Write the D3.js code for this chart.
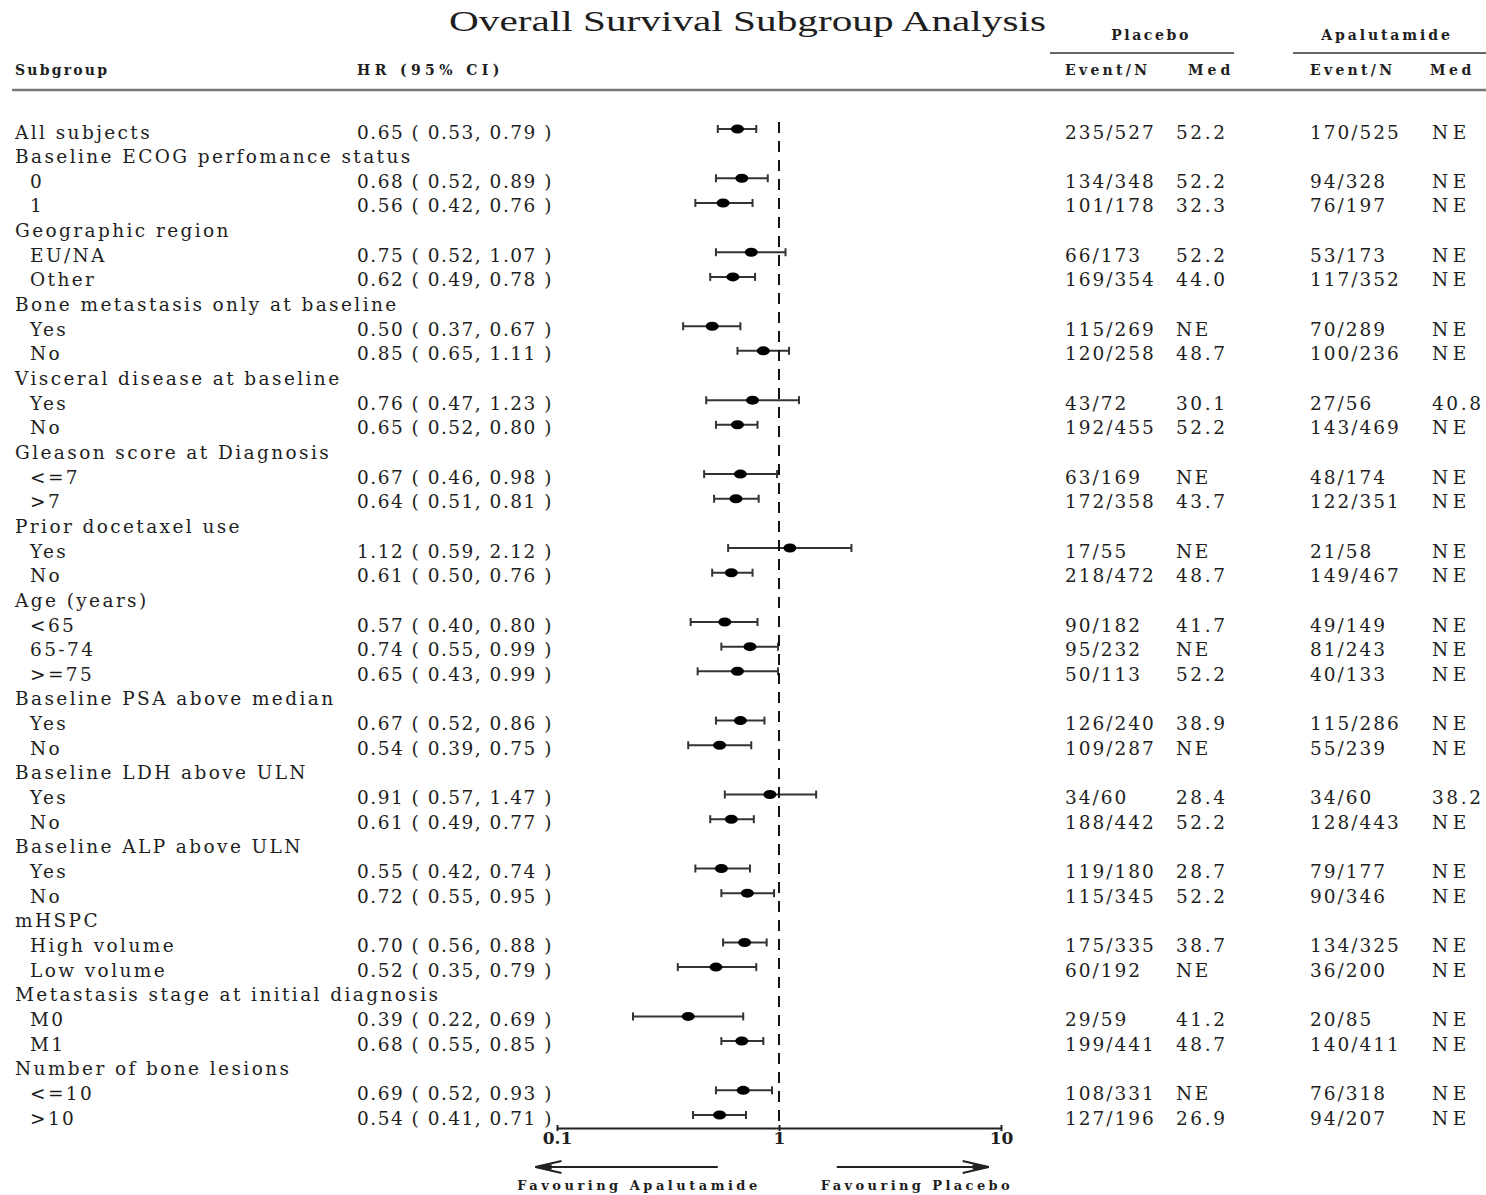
<!DOCTYPE html>
<html><head><meta charset="utf-8">
<script src="https://cdn.jsdelivr.net/npm/d3@7"></script>
<style>
html,body{margin:0;padding:0;background:#fff;}
svg{display:block;}
</style></head>
<body>
<svg id="chart" width="1486" height="1195"></svg>
<script>
const subgroups = ["All subjects","Baseline ECOG perfomance status","0","1","Geographic region","EU/NA","Other","Bone metastasis only at baseline","Yes","No","Visceral disease at baseline","Yes","No","Gleason score at Diagnosis","<=7",">7","Prior docetaxel use","Yes","No","Age (years)","<65","65-74",">=75","Baseline PSA above median","Yes","No","Baseline LDH above ULN","Yes","No","Baseline ALP above ULN","Yes","No","mHSPC","High volume","Low volume","Metastasis stage at initial diagnosis","M0","M1","Number of bone lesions","<=10",">10"];
const hr = [0.65,null,0.68,0.56,null,0.75,0.62,null,0.50,0.85,null,0.76,0.65,null,0.67,0.64,null,1.12,0.61,null,0.57,0.74,0.65,null,0.67,0.54,null,0.91,0.61,null,0.55,0.72,null,0.70,0.52,null,0.39,0.68,null,0.69,0.54];
const lower = [0.53,null,0.52,0.42,null,0.52,0.49,null,0.37,0.65,null,0.47,0.52,null,0.46,0.51,null,0.59,0.50,null,0.40,0.55,0.43,null,0.52,0.39,null,0.57,0.49,null,0.42,0.55,null,0.56,0.35,null,0.22,0.55,null,0.52,0.41];
const upper = [0.79,null,0.89,0.76,null,1.07,0.78,null,0.67,1.11,null,1.23,0.80,null,0.98,0.81,null,2.12,0.76,null,0.80,0.99,0.99,null,0.86,0.75,null,1.47,0.77,null,0.74,0.95,null,0.88,0.79,null,0.69,0.85,null,0.93,0.71];
const placeboEvents = ["235/527",null,"134/348","101/178",null,"66/173","169/354",null,"115/269","120/258",null,"43/72","192/455",null,"63/169","172/358",null,"17/55","218/472",null,"90/182","95/232","50/113",null,"126/240","109/287",null,"34/60","188/442",null,"119/180","115/345",null,"175/335","60/192",null,"29/59","199/441",null,"108/331","127/196"];
const placeboMed = ["52.2",null,"52.2","32.3",null,"52.2","44.0",null,"NE","48.7",null,"30.1","52.2",null,"NE","43.7",null,"NE","48.7",null,"41.7","NE","52.2",null,"38.9","NE",null,"28.4","52.2",null,"28.7","52.2",null,"38.7","NE",null,"41.2","48.7",null,"NE","26.9"];
const apalEvents = ["170/525",null,"94/328","76/197",null,"53/173","117/352",null,"70/289","100/236",null,"27/56","143/469",null,"48/174","122/351",null,"21/58","149/467",null,"49/149","81/243","40/133",null,"115/286","55/239",null,"34/60","128/443",null,"79/177","90/346",null,"134/325","36/200",null,"20/85","140/411",null,"76/318","94/207"];
const apalMed = ["NE",null,"NE","NE",null,"NE","NE",null,"NE","NE",null,"40.8","NE",null,"NE","NE",null,"NE","NE",null,"NE","NE","NE",null,"NE","NE",null,"38.2","NE",null,"NE","NE",null,"NE","NE",null,"NE","NE",null,"NE","NE"];
const axisTicks = [0.1, 1, 10];
const axisTickLabels = ["0.1", "1", "10"];
const title = "Overall Survival Subgroup Analysis";
const arms = ["Placebo", "Apalutamide"];
const favourLabels = ["Favouring Apalutamide", "Favouring Placebo"];
const favourArrowLeft = [0.53, 0.08];
const favourArrowRight = [1.82, 8.8];

const svg = d3.select("#chart");
const FONT = "'DejaVu Serif', serif";
const INK = "#1e1e1e";
const x = d3.scaleLog().domain([0.1, 10]).range([557, 1001]);
const y = d3.scalePoint().domain(d3.range(subgroups.length)).range([132, 1118]);
const fmt = d3.format(".2f");

// title
svg.append("text").attr("x", 449).attr("y", 31)
  .attr("font-family", "'Liberation Serif', serif").attr("font-size", 29).attr("fill", INK)
  .attr("textLength", 597).attr("lengthAdjust", "spacingAndGlyphs")
  .text(title);

// headers
const hdr = (t, xx, yy, anchor, ls) => svg.append("text").attr("x", xx).attr("y", yy)
  .attr("text-anchor", anchor || "start").attr("font-family", FONT).attr("font-weight", "bold")
  .attr("font-size", 14).attr("letter-spacing", ls).attr("fill", INK).text(t);
hdr("Subgroup", 15, 75, "start", 2.2);
hdr("HR (95% CI)", 357, 75, "start", 4.4);
hdr(arms[0], 1151, 40, "middle", 2.6);
hdr(arms[1], 1387, 40, "middle", 2.9);
hdr("Event/N", 1065, 75, "start", 3.3);
hdr("Med", 1188, 75, "start", 4);
hdr("Event/N", 1310, 75, "start", 3.3);
hdr("Med", 1430, 75, "start", 3.5);

svg.append("line").attr("x1", 1050).attr("x2", 1234).attr("y1", 53).attr("y2", 53).attr("stroke", "#666").attr("stroke-width", 2);
svg.append("line").attr("x1", 1293).attr("x2", 1486).attr("y1", 53).attr("y2", 53).attr("stroke", "#666").attr("stroke-width", 2);
svg.append("line").attr("x1", 12).attr("x2", 1486).attr("y1", 90).attr("y2", 90).attr("stroke", "#777").attr("stroke-width", 2.5);

// rows
const rows = subgroups.map((s, i) => ({ i, s, hr: hr[i], lo: lower[i], hi: upper[i], pe: placeboEvents[i], pm: placeboMed[i], ae: apalEvents[i], am: apalMed[i] }));
const txt = (sel, xx, ls, fn) => sel.append("text").attr("x", xx).attr("y", d => y(d.i) + 6.5)
  .attr("font-family", FONT).attr("font-size", 18.5).attr("letter-spacing", ls).attr("fill", INK).text(fn);

const g = svg.append("g");
const rg = g.selectAll("g.row").data(rows).join("g").attr("class", "row");
rg.append("text").attr("x", d => (d.hr != null && d.i > 0) ? 30 : 15).attr("y", d => y(d.i) + 6.5)
  .attr("font-family", FONT).attr("font-size", 18.5).attr("letter-spacing", 2.4).attr("fill", INK).text(d => d.s);
const dr = rg.filter(d => d.hr != null);
txt(dr, 357, 1.5, d => `${fmt(d.hr)} ( ${fmt(d.lo)}, ${fmt(d.hi)} )`);
txt(dr, 1065, 2, d => d.pe);
txt(dr, 1176, 2.6, d => d.pm);
txt(dr, 1310, 2, d => d.ae);
txt(dr, 1432, d => d.am === "NE" ? 4.5 : 2.6, d => d.am);

// reference line
svg.append("line").attr("x1", x(1)).attr("x2", x(1)).attr("y1", y(0) - 10).attr("y2", 1128)
  .attr("stroke", "#111").attr("stroke-width", 2).attr("stroke-dasharray", "11,8");

// CI bars
const my = d => y(d.i) - 3;
dr.append("line").attr("x1", d => x(d.lo)).attr("x2", d => x(d.hi)).attr("y1", my).attr("y2", my)
  .attr("stroke", "#333").attr("stroke-width", 2);
dr.append("line").attr("x1", d => x(d.lo)).attr("x2", d => x(d.lo)).attr("y1", d => my(d) - 4).attr("y2", d => my(d) + 4)
  .attr("stroke", "#333").attr("stroke-width", 2);
dr.append("line").attr("x1", d => x(d.hi)).attr("x2", d => x(d.hi)).attr("y1", d => my(d) - 4).attr("y2", d => my(d) + 4)
  .attr("stroke", "#333").attr("stroke-width", 2);
dr.append("ellipse").attr("cx", d => x(d.hr)).attr("cy", my).attr("rx", 6.5).attr("ry", 4.5).attr("fill", "#000");

// axis
const ax = svg.append("g").attr("transform", "translate(0,1128)")
  .call(d3.axisBottom(x).tickValues(axisTicks).tickSizeInner(3).tickSizeOuter(0).tickFormat((d, i) => axisTickLabels[i]));
ax.select(".domain").attr("stroke", "#222").attr("stroke-width", 2);
ax.selectAll(".tick line").attr("stroke", "#222").attr("stroke-width", 2).attr("y1", -3);
ax.selectAll(".tick text").attr("font-family", FONT).attr("font-weight", "bold").attr("font-size", 17).attr("fill", INK).attr("y", 3).attr("dy", "0.75em");

// favour arrows
const arrow = (a, b) => {
  const yy = 1167, x1 = x(a), x2 = x(b), dir = Math.sign(x2 - x1);
  svg.append("line").attr("x1", x1).attr("x2", x2).attr("y1", yy).attr("y2", yy).attr("stroke", "#222").attr("stroke-width", 2);
  svg.append("path").attr("d", `M${x2 - dir * 26},${yy - 6} L${x2},${yy} L${x2 - dir * 26},${yy + 6}`)
    .attr("fill", "none").attr("stroke", "#222").attr("stroke-width", 2);
  svg.append("path").attr("d", `M${x2 - dir * 16},${yy - 2} L${x2},${yy} L${x2 - dir * 16},${yy + 2}`)
    .attr("fill", "#222").attr("stroke", "#222").attr("stroke-width", 1.5);
};
arrow(favourArrowLeft[0], favourArrowLeft[1]);
arrow(favourArrowRight[0], favourArrowRight[1]);
svg.append("text").attr("x", 639).attr("y", 1190).attr("text-anchor", "middle").attr("font-family", FONT)
  .attr("font-weight", "bold").attr("font-size", 13).attr("letter-spacing", 3.5).attr("fill", INK).text(favourLabels[0]);
svg.append("text").attr("x", 917).attr("y", 1190).attr("text-anchor", "middle").attr("font-family", FONT)
  .attr("font-weight", "bold").attr("font-size", 13).attr("letter-spacing", 3.4).attr("fill", INK).text(favourLabels[1]);
</script>
</body></html>
